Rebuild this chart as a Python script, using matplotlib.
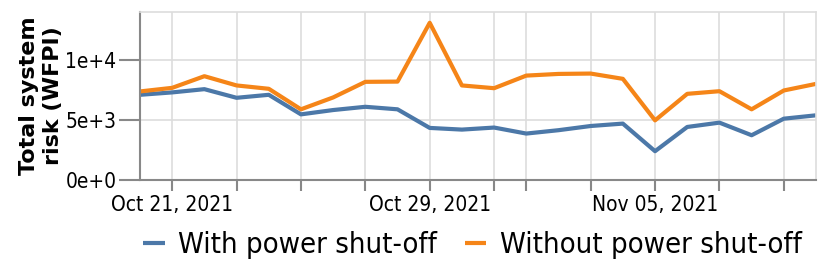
import matplotlib
matplotlib.use("Agg")
import matplotlib.pyplot as plt
from matplotlib import font_manager as fm
import datetime as dt

dates = [dt.date(2021, 10, 20) + dt.timedelta(days=i) for i in range(22)]
with_shutoff = [7100, 7300, 7570, 6850, 7100, 5470, 5830, 6100, 5890, 4340, 4200,
                4370, 3870, 4150, 4500, 4700, 2400, 4420, 4780, 3730, 5110, 5390]
without_shutoff = [7380, 7680, 8650, 7880, 7600, 5890, 6880, 8180, 8200, 13100, 7880,
                   7650, 8700, 8840, 8870, 8430, 4970, 7180, 7400, 5890, 7460, 8010]
tick_dates = [dt.date(2021, 10, d) for d in (21, 23, 25, 27, 29, 31)] + \
             [dt.date(2021, 11, d) for d in (1, 3, 5, 7, 9)]
labeled = {dt.date(2021, 10, 21): "Oct 21, 2021",
           dt.date(2021, 10, 29): "Oct 29, 2021",
           dt.date(2021, 11, 5): "Nov 05, 2021"}
y_ticks = [0, 5000, 10000]
y_labels = ["0e+0", "5e+3", "1e+4"]

BLUE = "#4c78a8"
ORANGE = "#f58518"

fig = plt.figure(figsize=(8.3, 2.72), dpi=100)
ax = fig.add_axes([140/830, 1-180/272, (816-140)/830, (180-12)/272])

ax.plot(dates, with_shutoff, color=BLUE, lw=3, label="With power shut-off", solid_capstyle="butt")
ax.plot(dates, without_shutoff, color=ORANGE, lw=3, label="Without power shut-off", solid_capstyle="butt")

ax.set_xlim(dates[0], dates[-1])
ax.set_ylim(0, 14000)
ax.set_xticks(tick_dates)
ax.set_xticklabels([labeled.get(d, "") for d in tick_dates])
ax.set_yticks(y_ticks)
ax.set_yticklabels(y_labels)

tick_font = fm.FontProperties(family="DejaVu Sans", stretch="condensed", size=15)
for lab in ax.get_xticklabels() + ax.get_yticklabels():
    lab.set_fontproperties(tick_font)

ax.grid(True, color="#dddddd", lw=1.2)
ax.set_axisbelow(True)
for s in ("top", "right"):
    ax.spines[s].set_color("#dddddd")
    ax.spines[s].set_linewidth(1.2)
for s in ("left", "bottom"):
    ax.spines[s].set_color("#888888")
    ax.spines[s].set_linewidth(1.5)
ax.tick_params(axis="x", length=8, width=1.5, color="#888888", pad=3)
ax.tick_params(axis="y", length=15, width=1.5, color="#888888", pad=2)

ax.set_ylabel("Total system\nrisk (WFPI)", fontsize=16, fontweight="bold", linespacing=1.3,
              va="center", ha="center")
ax.yaxis.set_label_coords((41 - 140) / 676, 0.5)

leg_font = fm.FontProperties(family="DejaVu Sans", stretch="condensed", size=21)
leg = fig.legend(loc="center", bbox_to_anchor=(0.569, 1-245/272), ncol=2, frameon=False,
                 prop=leg_font, handlelength=0.75, handletextpad=0.45, columnspacing=0.95)
for h in leg.get_lines():
    h.set_linewidth(3)

fig.savefig("out.png", dpi=100)
